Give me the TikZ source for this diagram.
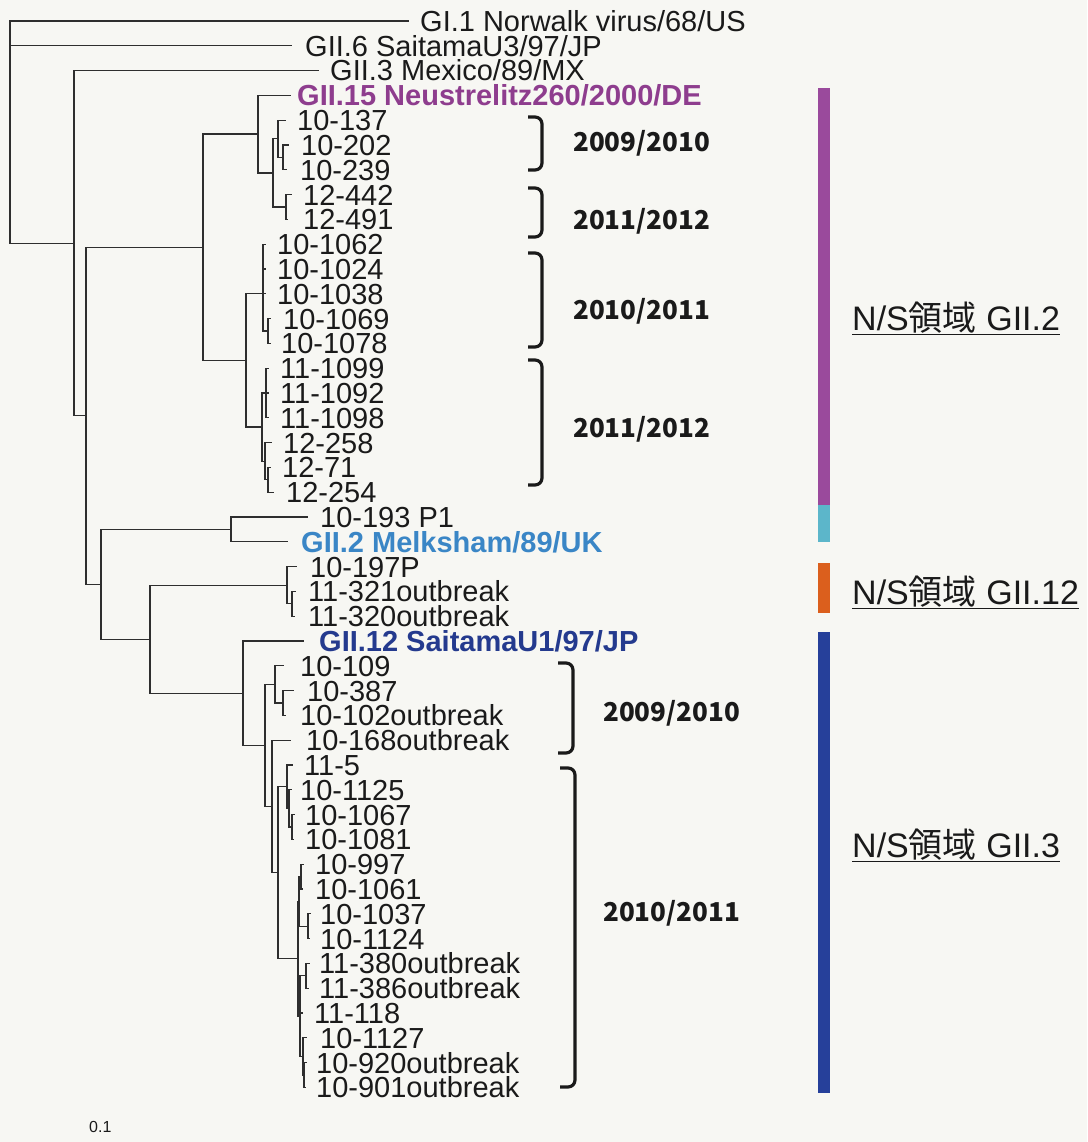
\documentclass[tikz,border=0pt]{standalone}
\usepackage{fontspec}
\setmainfont{Liberation Sans}
\newfontfamily\jp{Noto Sans CJK JP}
\definecolor{paper}{HTML}{F7F7F3}
\definecolor{treec}{HTML}{2E2E2E}
\definecolor{txt}{HTML}{1A1A1A}
\definecolor{purptxt}{HTML}{8E3D8E}
\definecolor{purpbar}{HTML}{9A4A9C}
\definecolor{cyanbar}{HTML}{5CB6CA}
\definecolor{meltxt}{HTML}{3A86C6}
\definecolor{orbar}{HTML}{DB5F1D}
\definecolor{saitxt}{HTML}{243A8E}
\definecolor{bluebar}{HTML}{26409A}
\newcommand\lf{\fontsize{29}{34}\selectfont}
\newcommand\leaf[5]{%
  \coordinate (#1) at (#3,#2);
  \node[leaflab] (#1t) at (#4,#2) {#5};}
\begin{document}
\begin{tikzpicture}[x=1pt,y=-1pt,
  br/.style={line width=1.3pt, draw=treec, line cap=rect},
  leaflab/.style={anchor=base west, inner sep=0pt, yshift=-10.4pt, font=\lf, text=txt},
  yearlab/.style={anchor=base west, inner sep=0pt, yshift=-9.4pt, font=\jp\bfseries\fontsize{26}{30}\selectfont, text=txt},
  rlab/.style={anchor=base west, inner sep=0pt, yshift=-12.2pt, font=\fontsize{34}{40}\selectfont, text=txt},
  brace/.style={line width=3.2pt, draw=txt, rounded corners=7pt}]
\fill[paper] (0,0) rectangle (1087,1142);
\useasboundingbox (0,0) rectangle (1087,1142);

% internal nodes
\coordinate (nR0) at (10,132);
\coordinate (nA) at (74,243.2);
\coordinate (nB) at (86,415.8);
\coordinate (nC) at (203,247.3);
\coordinate (nD) at (258,134.15);
\coordinate (nF) at (273,172.9);
\coordinate (nE) at (278,138.8);
\coordinate (nG) at (283,157.4);
\coordinate (nH) at (286,207);
\coordinate (nI) at (246,360.45);
\coordinate (nJ) at (263,293.8);
\coordinate (nK) at (268,331);
\coordinate (nL) at (262,427.1);
\coordinate (nM) at (266,393);
\coordinate (nN) at (265,461.2);
\coordinate (nO) at (268,479.8);
\coordinate (nP) at (101,584.3);
\coordinate (nQ) at (231,529.4);
\coordinate (nR) at (150,639.2);
\coordinate (nS) at (287,585.2);
\coordinate (nT) at (292,603.8);
\coordinate (nU) at (243,693.2);
\coordinate (nV) at (265,745.4);
\coordinate (nW) at (275,684.4);
\coordinate (nX) at (283,703);
\coordinate (nY) at (272,806.5);
\coordinate (nZ) at (278,872.7);
\coordinate (nAA) at (287,786.7);
\coordinate (nBB) at (289,808.4);
\coordinate (nCC) at (292,827);
\coordinate (nDD) at (298,958.75);
\coordinate (nEE) at (299,901.4);
\coordinate (nFF) at (301,876.6);
\coordinate (nGG) at (308,926.2);
\coordinate (nHH) at (300,1016.1);
\coordinate (nII) at (306,975.8);
\coordinate (nJJ) at (303,1056.4);
\coordinate (nKK) at (304,1075);

% leaves
\leaf{l1}{21}{408}{420}{GI.1 Norwalk virus/68/US}
\leaf{l2}{45.8}{291}{305}{GII.6 SaitamaU3/97/JP}
\leaf{l3}{70.6}{318}{330}{GII.3 Mexico/89/MX}
\leaf{l4}{95.4}{290}{297}{\bfseries\color{purptxt}GII.15 Neustrelitz260/2000/DE}
\leaf{l5}{120.2}{285}{297}{10-137}
\leaf{l6}{145}{288}{301}{10-202}
\leaf{l7}{169.8}{286}{300}{10-239}
\leaf{l8}{194.6}{291}{303}{12-442}
\leaf{l9}{219.4}{287}{303}{12-491}
\leaf{l10}{244.2}{265}{277}{10-1062}
\leaf{l11}{269}{265}{277}{10-1024}
\leaf{l12}{293.8}{265}{277}{10-1038}
\leaf{l13}{318.6}{270}{283}{10-1069}
\leaf{l14}{343.4}{270}{281}{10-1078}
\leaf{l15}{368.2}{268}{280}{11-1099}
\leaf{l16}{393}{268}{280}{11-1092}
\leaf{l17}{417.8}{268}{280}{11-1098}
\leaf{l18}{442.6}{271}{283}{12-258}
\leaf{l19}{467.4}{270}{282}{12-71}
\leaf{l20}{492.2}{273}{286}{12-254}
\leaf{l21}{517}{307}{320}{10-193 P1}
\leaf{l22}{541.8}{287}{301}{\bfseries\color{meltxt}GII.2 Melksham/89/UK}
\leaf{l23}{566.6}{296}{310}{10-197P}
\leaf{l24}{591.4}{295}{308}{11-321outbreak}
\leaf{l25}{616.2}{294}{308}{11-320outbreak}
\leaf{l26}{641}{303}{319}{\bfseries\color{saitxt}GII.12 SaitamaU1/97/JP}
\leaf{l27}{665.8}{283}{300}{10-109}
\leaf{l28}{690.6}{293}{307}{10-387}
\leaf{l29}{715.4}{285}{300}{10-102outbreak}
\leaf{l30}{740.2}{290}{306}{10-168outbreak}
\leaf{l31}{765}{292}{304}{11-5}
\leaf{l32}{789.8}{291}{300}{10-1125}
\leaf{l33}{814.6}{294}{305}{10-1067}
\leaf{l34}{839.4}{293}{305}{10-1081}
\leaf{l35}{864.2}{303}{315}{10-997}
\leaf{l36}{889}{302}{315}{10-1061}
\leaf{l37}{913.8}{310}{320}{10-1037}
\leaf{l38}{938.6}{309}{320}{10-1124}
\leaf{l39}{963.4}{309}{319}{11-380outbreak}
\leaf{l40}{988.2}{308}{319}{11-386outbreak}
\leaf{l41}{1013}{302}{314}{11-118}
\leaf{l42}{1037.8}{306}{320}{10-1127}
\leaf{l43}{1062.6}{306}{316}{10-920outbreak}
\leaf{l44}{1087.4}{305}{316}{10-901outbreak}

% branches
\foreach \p/\c in {nR0/l1,nR0/l2,nR0/nA, nA/l3,nA/nB, nB/nC,nB/nP, nC/nD,nC/nI,
  nD/l4,nD/nF, nF/nE,nF/nH, nE/l5,nE/nG, nG/l6,nG/l7, nH/l8,nH/l9,
  nI/nJ,nI/nL, nJ/l10,nJ/l11,nJ/l12,nJ/nK, nK/l13,nK/l14,
  nL/nM,nL/nN, nM/l15,nM/l16,nM/l17, nN/l18,nN/nO, nO/l19,nO/l20,
  nP/nQ,nP/nR, nQ/l21,nQ/l22, nR/nS,nR/nU, nS/l23,nS/nT, nT/l24,nT/l25,
  nU/l26,nU/nV, nV/nW,nV/nY, nW/l27,nW/nX, nX/l28,nX/l29,
  nY/l30,nY/nZ, nZ/nAA,nZ/nDD, nAA/l31,nAA/nBB, nBB/l32,nBB/nCC, nCC/l33,nCC/l34,
  nDD/nEE,nDD/nHH, nEE/nFF,nEE/nGG, nFF/l35,nFF/l36, nGG/l37,nGG/l38,
  nHH/nII,nHH/l41,nHH/nJJ, nII/l39,nII/l40, nJJ/l42,nJJ/nKK, nKK/l43,nKK/l44}
  \draw[br] (\p) |- (\c);

% season brackets
\draw[brace] (528,117) -- (542,117) -- (542,170) -- (528,170);
\draw[brace] (528,188) -- (542,188) -- (542,237) -- (528,237);
\draw[brace] (528,253) -- (542,253) -- (542,347) -- (528,347);
\draw[brace] (528,360) -- (542,360) -- (542,485) -- (528,485);
\draw[brace] (558,663) -- (573,663) -- (573,753) -- (558,753);
\draw[brace] (560,768) -- (575,768) -- (575,1087) -- (560,1087);
\node[yearlab] (y1) at (573,142) {2009/2010};
\node[yearlab] (y2) at (573,220) {2011/2012};
\node[yearlab] (y3) at (573,310) {2010/2011};
\node[yearlab] (y4) at (573,428) {2011/2012};
\node[yearlab] (y5) at (603,712) {2009/2010};
\node[yearlab] (y6) at (603,912) {2010/2011};

% genotype bars
\fill[purpbar] (818,88) rectangle (830,505);
\fill[cyanbar] (818,505) rectangle (830,542);
\fill[orbar] (818,563) rectangle (830,613);
\fill[bluebar] (818,632) rectangle (830,1093);
\node[rlab] (g1) at (852,318) {\underline{N/S{\jp 領域} GII.2}};
\node[rlab] (g2) at (852,592) {\underline{N/S{\jp 領域} GII.12}};
\node[rlab] (g3) at (852,845) {\underline{N/S{\jp 領域} GII.3}};

\node[anchor=west, inner sep=0pt, font=\fontsize{16}{19}\selectfont, text=txt] (scale) at (89,1127) {0.1};
\end{tikzpicture}
\end{document}
